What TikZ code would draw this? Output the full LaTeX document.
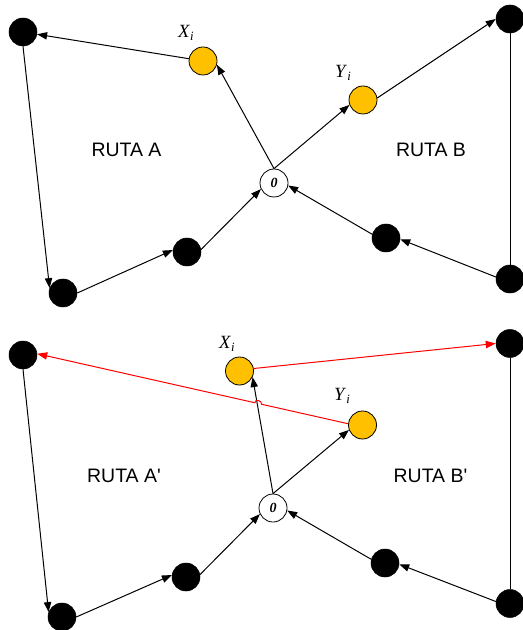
\documentclass[tikz,border=0pt]{standalone}
\usepackage{fontspec}
\setmainfont{Liberation Serif}
\newfontfamily\arialf{Liberation Sans}
\usetikzlibrary{arrows.meta,calc}
\definecolor{gold}{HTML}{FFC000}
\begin{document}
\begin{tikzpicture}[x=0.75pt,y=-0.75pt,
  blk/.style={circle,fill=black,draw=black,minimum size=21pt,inner sep=0pt},
  org/.style={circle,fill=gold,draw=black,line width=0.6pt,minimum size=21pt,inner sep=0pt},
  zer/.style={circle,fill=white,draw=black,line width=0.6pt,minimum size=21pt,inner sep=0pt,font=\fontsize{10.5}{11}\selectfont\bfseries\itshape},
  edge/.style={line width=0.75pt,-{Triangle[length=7.5pt,width=5.5pt]}},
  plain/.style={line width=0.75pt},
  redge/.style={edge,draw=red},
  ruta/.style={font=\arialf\fontsize{14.6}{16}\selectfont,inner sep=0pt},
  lbl/.style={font=\fontsize{14}{15}\selectfont,inner sep=0pt}
]
\useasboundingbox (0,0) rectangle (523,630);
% ---------------- top ----------------
\node[blk] (TL) at (23,32) {};
\node[org] (Xi) at (203,61) {};
\node[org] (Yi) at (363,100) {};
\node[blk] (TR) at (510,19) {};
\node[zer] (Z) at (274,183) {0};
\node[blk] (B1) at (187,252) {};
\node[blk] (BL) at (63,293) {};
\node[blk] (B2) at (386,238) {};
\node[blk] (BR) at (510,279) {};
\node[lbl] (lx) at (186,33) {\textit{X}\raisebox{-0.3ex}{\fontsize{9.5}{10}\selectfont\textit{i}}};
\node[lbl] (ly) at (343,73) {\textit{Y}\raisebox{-0.3ex}{\fontsize{9.5}{10}\selectfont\textit{i}}};
\node[ruta] (ra) at (126.5,150) {RUTA A};
\node[ruta] (rb) at (431,150) {RUTA B};

\draw[edge] (Xi) -- (TL);
\draw[edge] (TL.south) -- (BL.160);
\draw[edge] (BL.east) -- (B1.172);
\draw[edge] (B1.10) -- (Z.205);
\draw[edge] (Z.north) -- (Xi.-15);
\draw[edge] (Z.north) -- (Yi.200);
\draw[edge] (Yi.8) -- (TR.180);
\draw[plain] (TR.south) -- (BR.north);
\draw[edge] (BR.172) -- (B2.-5);
\draw[edge] (B2.165) -- (Z.-10);

% ---------------- bottom ----------------
\node[blk] (TL2) at (23,355) {};
\node[org] (Xi2) at (239.5,371) {};
\node[org] (Yi2) at (362.5,425) {};
\node[blk] (TR2) at (510,343.5) {};
\node[zer] (Z2) at (273,508) {0};
\node[blk] (B12) at (186,577) {};
\node[blk] (BL2) at (62,617) {};
\node[blk] (B22) at (385,563) {};
\node[blk] (BR2) at (510,603.5) {};
\node[lbl] (lx2) at (227,344) {\textit{X}\raisebox{-0.3ex}{\fontsize{9.5}{10}\selectfont\textit{i}}};
\node[lbl] (ly2) at (342,396) {\textit{Y}\raisebox{-0.3ex}{\fontsize{9.5}{10}\selectfont\textit{i}}};
\node[ruta] (ra2) at (124,475.5) {RUTA A'};
\node[ruta] (rb2) at (430.5,475.5) {RUTA B'};

\draw[edge] (TL2.south) -- (BL2.160);
\draw[edge] (BL2.east) -- (B12.172);
\draw[edge] (B12.10) -- (Z2.205);
\draw[edge] (Z2.north) -- (Xi2.-25);
\draw[edge] (Z2.north) -- (Yi2.200);
\draw[plain] (TR2.south) -- (BR2.north);
\draw[edge] (BR2.172) -- (B22.-5);
\draw[edge] (B22.165) -- (Z2.-10);

\draw[redge] (Xi2.10) -- (TR2.180);
\coordinate (h1) at ($(Yi2.175)!0.278!(TL2.5)$);
\coordinate (h2) at ($(Yi2.175)!0.300!(TL2.5)$);
\draw[redge] (Yi2.175) -- (h1) .. controls ($(h1)+(0,-4)$) and ($(h2)+(0,-4)$) .. (h2) -- (TL2.5);
\end{tikzpicture}
\end{document}
